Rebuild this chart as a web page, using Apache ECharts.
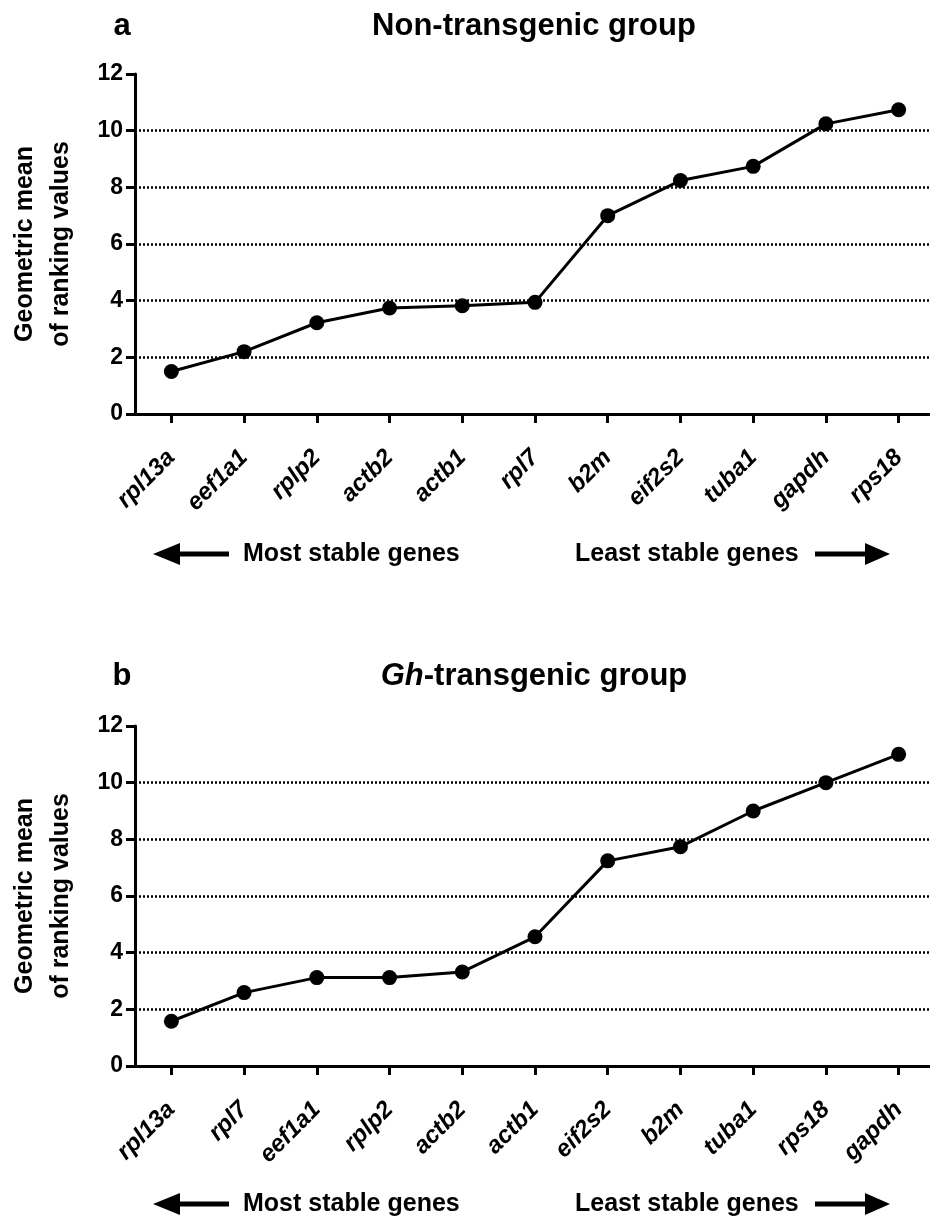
<!DOCTYPE html>
<html>
<head>
<meta charset="utf-8">
<script src="https://cdn.jsdelivr.net/npm/echarts@6/dist/echarts.min.js"></script>
<style>
html,body{margin:0;padding:0;background:#fff;}
#main{width:930px;height:1219px;}
</style>
</head>
<body>
<div id="main"></div>
<script>
// ---- data ----
const categoriesA = ['rpl13a','eef1a1','rplp2','actb2','actb1','rpl7','b2m','eif2s2','tuba1','gapdh','rps18'];
const valuesA = [1.5, 2.2, 3.22, 3.74, 3.82, 3.94, 7.0, 8.24, 8.74, 10.24, 10.74];
const categoriesB = ['rpl13a','rpl7','eef1a1','rplp2','actb2','actb1','eif2s2','b2m','tuba1','rps18','gapdh'];
const valuesB = [1.58, 2.59, 3.12, 3.12, 3.32, 4.56, 7.24, 7.74, 9.0, 10.0, 11.0];
const yMin = 0, yMax = 12, yInterval = 2;
const yAxisTitle = 'Geometric mean\nof ranking values';
const titleA = 'Non-transgenic group';
const panelA = 'a', panelB = 'b';
const leftNote = 'Most stable genes', rightNote = 'Least stable genes';

const FONT = '"Liberation Sans", Arial, Helvetica, sans-serif';
const chart = echarts.init(document.getElementById('main'), null, {renderer: 'canvas'});

const grids = [
  {left: 135, top: 74, width: 800, height: 340, containLabel: false, outerBoundsMode: 'none'},
  {left: 135, top: 726, width: 800, height: 340, containLabel: false, outerBoundsMode: 'none'}
];

function xAxis(idx, cats) {
  return {
    type: 'category', gridIndex: idx, data: cats, boundaryGap: true,
    axisLine: {show: true, onZero: false, lineStyle: {color: '#000', width: 3}},
    axisTick: {show: true, alignWithLabel: true, length: 9, lineStyle: {color: '#000', width: 3}},
    axisLabel: {rotate: 45, interval: 0, margin: 40, color: '#000', fontFamily: FONT,
                fontSize: 24, fontWeight: 'bold', fontStyle: 'italic', hideOverlap: false},
    splitLine: {show: false}
  };
}
function yAxis(idx) {
  return {
    type: 'value', gridIndex: idx, min: yMin, max: yMax, interval: yInterval,
    name: yAxisTitle, nameLocation: 'middle', nameGap: 56, nameRotate: 90,
    nameTextStyle: {color: '#000', fontFamily: FONT, fontSize: 25, fontWeight: 'bold', lineHeight: 36},
    axisLine: {show: true, lineStyle: {color: '#000', width: 3}},
    axisTick: {show: true, length: 9, lineStyle: {color: '#000', width: 3}},
    axisLabel: {color: '#000', fontFamily: FONT, fontSize: 23, fontWeight: 'bold', margin: 12},
    splitLine: {show: true, showMinLine: false, showMaxLine: false,
                lineStyle: {color: '#000', width: 2.5, type: [2, 2]}}
  };
}
function series(idx, vals) {
  return {
    type: 'line', xAxisIndex: idx, yAxisIndex: idx, data: vals,
    symbol: 'circle', symbolSize: 15, showSymbol: true,
    lineStyle: {color: '#000', width: 3}, itemStyle: {color: '#000'},
    z: 5
  };
}

function arrows(cy) {
  const txt = {fontFamily: FONT, fontSize: 25, fontWeight: 'bold', fill: '#000'};
  return [
    {type: 'polygon', shape: {points: [[153, cy], [180, cy - 11], [180, cy + 11]]}, style: {fill: '#000'}},
    {type: 'rect', shape: {x: 179, y: cy - 2.5, width: 50, height: 5}, style: {fill: '#000'}},
    {type: 'text', x: 243, y: cy, style: Object.assign({text: leftNote, align: 'left', verticalAlign: 'middle'}, txt)},
    {type: 'text', x: 575, y: cy, style: Object.assign({text: rightNote, align: 'left', verticalAlign: 'middle'}, txt)},
    {type: 'rect', shape: {x: 815, y: cy - 2.5, width: 51, height: 5}, style: {fill: '#000'}},
    {type: 'polygon', shape: {points: [[890, cy], [865, cy - 11], [865, cy + 11]]}, style: {fill: '#000'}}
  ];
}

const titleStyle = {fontFamily: FONT, fontSize: 31, fontWeight: 'bold', fill: '#000'};
const graphics = [].concat(
  [
    {type: 'text', x: 122, y: 26, style: Object.assign({text: panelA, align: 'center', verticalAlign: 'middle'}, titleStyle)},
    {type: 'text', x: 534, y: 26, style: Object.assign({text: titleA, align: 'center', verticalAlign: 'middle'}, titleStyle)},
    {type: 'text', x: 122, y: 676, style: Object.assign({text: panelB, align: 'center', verticalAlign: 'middle'}, titleStyle)},
    {type: 'text', x: 534, y: 676, style: {
      text: '{i|Gh}{n|-transgenic group}', align: 'center', verticalAlign: 'middle',
      rich: {
        i: {fontFamily: FONT, fontSize: 31, fontWeight: 'bold', fontStyle: 'italic', fill: '#000'},
        n: {fontFamily: FONT, fontSize: 31, fontWeight: 'bold', fill: '#000'}
      }
    }}
  ],
  arrows(554),
  arrows(1204)
);

chart.setOption({
  animation: false,
  backgroundColor: '#fff',
  grid: grids,
  xAxis: [xAxis(0, categoriesA), xAxis(1, categoriesB)],
  yAxis: [yAxis(0), yAxis(1)],
  series: [series(0, valuesA), series(1, valuesB)],
  graphic: graphics
});
</script>
</body>
</html>
